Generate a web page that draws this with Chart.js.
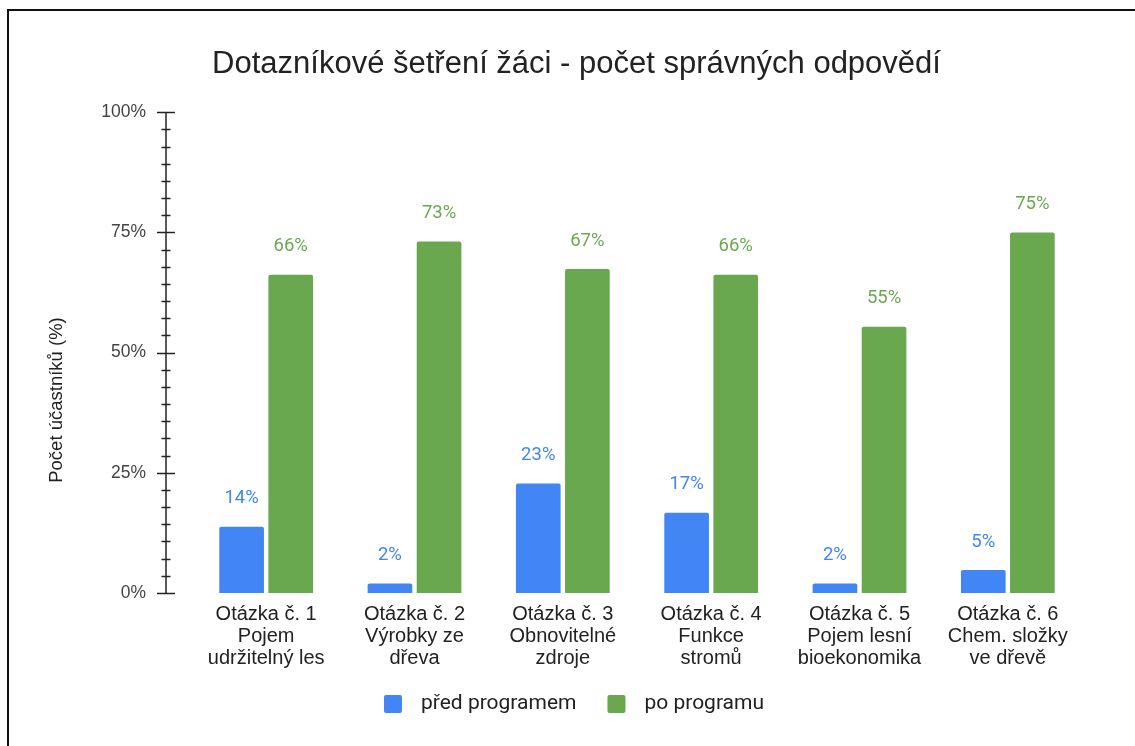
<!DOCTYPE html>
<html>
<head>
<meta charset="utf-8">
<script src="https://cdn.jsdelivr.net/npm/chart.js@4"></script>
<style>
  html, body { margin: 0; padding: 0; background: #fff; overflow: hidden; }
  #wrap { position: relative; width: 1135px; height: 746px; }
  #frame { position: absolute; left: 7px; top: 9px; width: 2000px; height: 2000px; border: 2px solid #111; pointer-events: none; }
</style>
</head>
<body>
<div id="wrap">
  <canvas id="myChart" width="1135" height="746"></canvas>
  <div id="frame"></div>
</div>
<script>
var questions = [
  ["Otázka č. 1", "Pojem", "udržitelný les"],
  ["Otázka č. 2", "Výrobky ze", "dřeva"],
  ["Otázka č. 3", "Obnovitelné", "zdroje"],
  ["Otázka č. 4", "Funkce", "stromů"],
  ["Otázka č. 5", "Pojem lesní", "bioekonomika"],
  ["Otázka č. 6", "Chem. složky", "ve dřevě"]
];
var before = [13.8, 2.0, 22.8, 16.7, 2.0, 4.8];
var after = [66.2, 73.1, 67.4, 66.2, 55.4, 75.0];
var seriesNames = ["před programem", "po programu"];
var barColors = ["#4285f4", "#6aa84f"];
var yTicks = [0, 25, 50, 75, 100];
var minorPerMajor = 7;

// axis line, tick marks and axis title drawn by hand (Sheets style)
var axisPlugin = {
  id: "axisPlugin",
  afterDraw: function (chart) {
    var ctx = chart.ctx;
    var y = chart.scales.y;
    var ax = chart.chartArea.left - 26;
    ctx.save();
    ctx.strokeStyle = "#222";
    ctx.lineWidth = 1.5;
    ctx.beginPath();
    ctx.moveTo(ax, y.getPixelForValue(100));
    ctx.lineTo(ax, y.getPixelForValue(0));
    ctx.stroke();
    y.ticks.forEach(function (t) {
      var py = Math.round(y.getPixelForValue(t.value)) + 0.5;
      var major = yTicks.some(function (v) { return Math.abs(v - t.value) < 1e-6; });
      ctx.beginPath();
      ctx.moveTo(ax - (major ? 9 : 4.5), py);
      ctx.lineTo(ax + (major ? 9 : 4.5), py);
      ctx.stroke();
    });
    ctx.translate(57, 400);
    ctx.rotate(-Math.PI / 2);
    ctx.fillStyle = "#222";
    ctx.font = "18.5px 'Liberation Sans', Arial, sans-serif";
    ctx.textAlign = "center";
    ctx.textBaseline = "middle";
    ctx.fillText("Počet účastníků (%)", 0, 0);
    ctx.restore();
  }
};

var valueLabels = {
  id: "valueLabels",
  afterDatasetsDraw: function (chart) {
    var ctx = chart.ctx;
    ctx.save();
    ctx.font = "18.5px Roboto, sans-serif";
    ctx.textAlign = "center";
    ctx.textBaseline = "middle";
    chart.data.datasets.forEach(function (ds, i) {
      ctx.fillStyle = barColors[i];
      chart.getDatasetMeta(i).data.forEach(function (bar, j) {
        ctx.fillText(Math.round(ds.data[j]) + "%", bar.x, bar.y - 28);
      });
    });
    ctx.restore();
  }
};

// legend at the bottom, Sheets spacing
var bottomLegend = {
  id: "bottomLegend",
  afterDraw: function (chart) {
    var ctx = chart.ctx;
    var box = 18, gap = 19, between = 31, cy = 704;
    ctx.save();
    ctx.font = "21px Roboto, sans-serif";
    ctx.textBaseline = "middle";
    var widths = seriesNames.map(function (n) { return ctx.measureText(n).width; });
    var total = widths.reduce(function (a, w) { return a + box + gap + w; }, 0) + between * (seriesNames.length - 1);
    var x = 574 - total / 2;
    seriesNames.forEach(function (n, i) {
      ctx.fillStyle = barColors[i];
      ctx.beginPath();
      ctx.roundRect(x, cy - box / 2, box, box, 2);
      ctx.fill();
      ctx.fillStyle = "#222";
      ctx.fillText(n, x + box + gap, cy);
      x += box + gap + widths[i] + between;
    });
    ctx.restore();
  }
};

new Chart("myChart", {
  type: "bar",
  data: {
    labels: questions,
    datasets: [{
      label: seriesNames[0],
      data: before,
      backgroundColor: barColors[0],
      borderRadius: { topLeft: 2, topRight: 2 },
      borderSkipped: "start",
      categoryPercentage: 0.662,
      barPercentage: 0.91
    }, {
      label: seriesNames[1],
      data: after,
      backgroundColor: barColors[1],
      borderRadius: { topLeft: 2, topRight: 2 },
      borderSkipped: "start",
      categoryPercentage: 0.662,
      barPercentage: 0.91
    }]
  },
  options: {
    responsive: false,
    animation: false,
    layout: { padding: { left: 71, right: 53, top: 0, bottom: 0 } },
    plugins: {
      title: {
        display: true,
        text: "Dotazníkové šetření žáci - počet správných odpovědí",
        color: "#222",
        font: { family: "'Liberation Sans', Arial, sans-serif", size: 31, weight: "normal" },
        padding: { top: 46, bottom: 29 }
      },
      legend: { display: false },
      tooltip: { enabled: false }
    },
    scales: {
      x: {
        grid: { display: false, drawTicks: false },
        border: { display: false },
        ticks: {
          color: "#222",
          padding: 10,
          maxRotation: 0,
          autoSkip: false,
          font: { family: "'Liberation Sans', Arial, sans-serif", size: 20, lineHeight: 1.1 }
        },
        afterFit: function (s) { s.height = 153; }
      },
      y: {
        min: 0,
        max: 100,
        grid: { display: false, drawTicks: false },
        border: { display: false },
        afterBuildTicks: function (s) {
          var t = [];
          for (var i = 0; i <= 4 * minorPerMajor; i++) t.push({ value: i * 25 / minorPerMajor });
          s.ticks = t;
        },
        ticks: {
          color: "#444",
          padding: 46,
          autoSkip: false,
          font: { family: "'Liberation Sans', Arial, sans-serif", size: 17.5 },
          callback: function (v) {
            var r = Math.round(v / 25) * 25;
            return Math.abs(v - r) < 1e-6 ? r + "%" : "";
          }
        },
        afterFit: function (s) { s.width = 121; }
      }
    }
  },
  plugins: [axisPlugin, valueLabels, bottomLegend]
});
</script>
</body>
</html>
